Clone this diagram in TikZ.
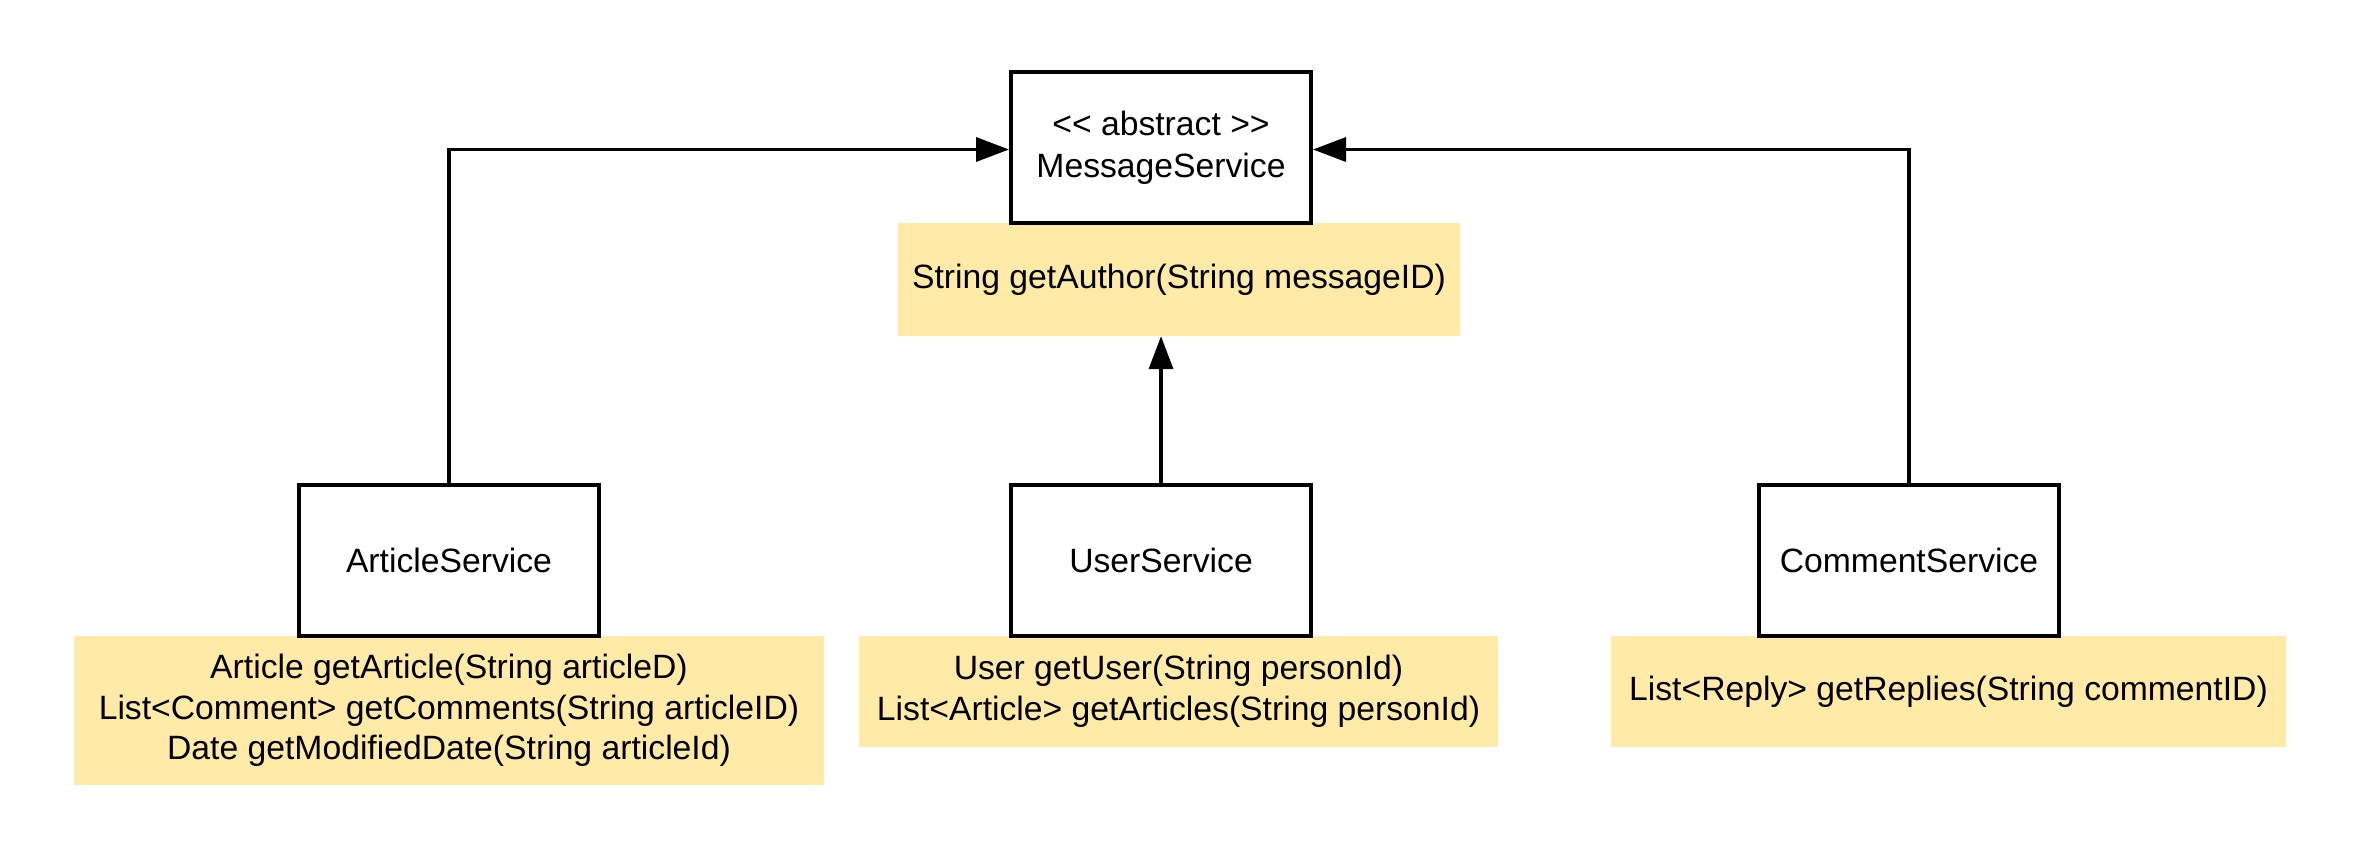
\documentclass[tikz,border=0pt]{standalone}
\usepackage{fontspec}
\newfontfamily\lsans{Liberation Sans}
\usetikzlibrary{arrows.meta}
\definecolor{noteyellow}{HTML}{FFEAA7}
\tikzset{
  cls/.style={draw=black, line width=4pt, fill=white, minimum width=300pt, minimum height=151pt, inner sep=0pt, align=center, font=\lsans\fontsize{33.7}{42}\selectfont},
  note/.style={fill=noteyellow, draw=none, inner sep=0pt, align=center, font=\lsans\fontsize{33.7}{40.7}\selectfont},
  conn/.style={draw=black, line width=3.5pt, -{Triangle[length=33pt, width=24pt]}},
}
\begin{document}
\begin{tikzpicture}[x=1pt, y=-1pt]
\useasboundingbox (0,0) rectangle (2363,863);
\node[note, minimum width=562pt, minimum height=113pt] (authnote) at (1179,279.5) {String getAuthor(String messageID)};
\node[cls] (ms) at (1161,147.5) {<< abstract >>\\MessageService};
\node[note, minimum width=750pt, minimum height=149pt] (artnote) at (449,710.5) {Article getArticle(String articleD)\\List<Comment> getComments(String articleID)\\Date getModifiedDate(String articleId)};
\node[note, minimum width=639pt, minimum height=111pt] (usrnote) at (1178.5,691.5) {User getUser(String personId)\\List<Article> getArticles(String personId)};
\node[note, minimum width=675pt, minimum height=111pt] (cmtnote) at (1948.5,691.5) {List<Reply> getReplies(String commentID)};
\node[cls] (as) at (449,560.5) {ArticleService};
\node[cls] (us) at (1161,560.5) {UserService};
\node[cls] (cs) at (1909,560.5) {CommentService};
\draw[conn] (as.north) |- ([yshift=-2pt]ms.west);
\draw[conn] (cs.north) |- ([yshift=-2pt]ms.east);
\draw[conn] (us.north) -- (us.north |- authnote.south);
\end{tikzpicture}
\end{document}
